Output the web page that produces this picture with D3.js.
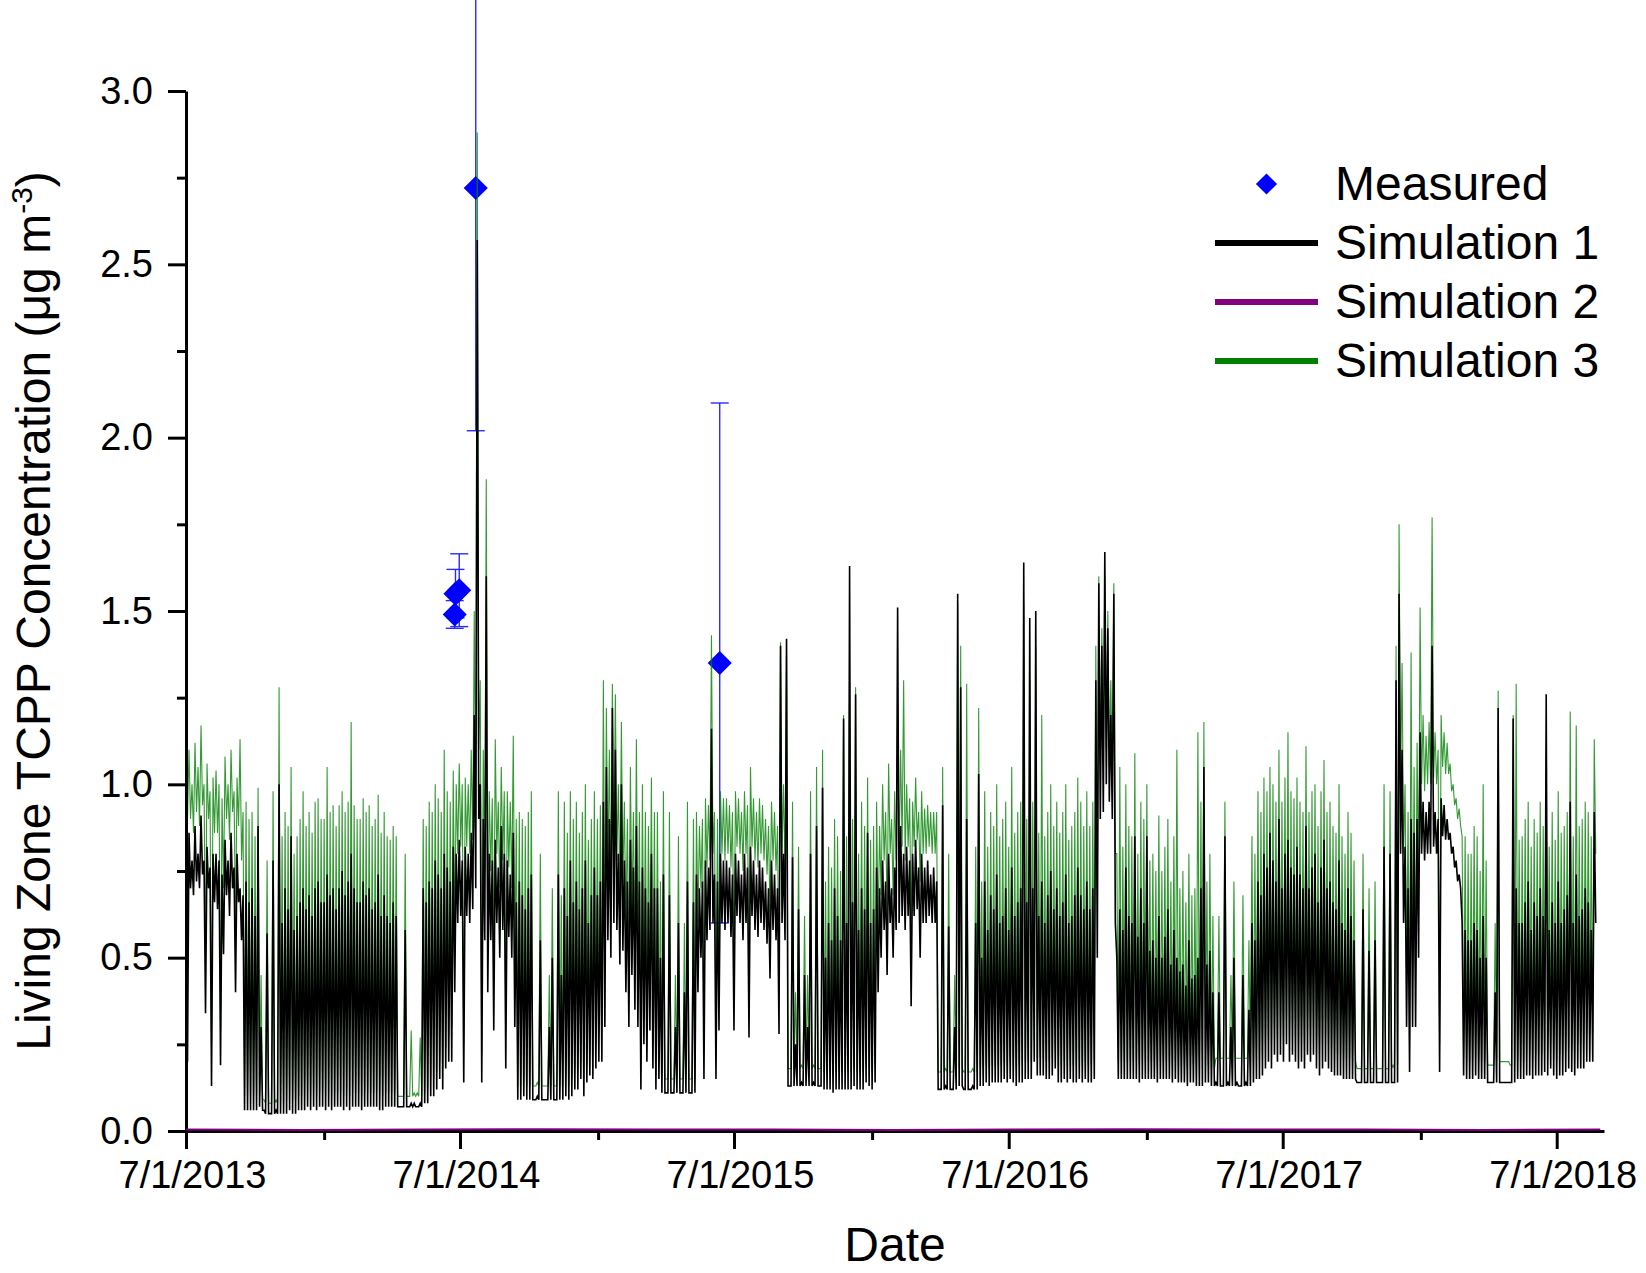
<!DOCTYPE html>
<html><head><meta charset="utf-8">
<script src="https://cdn.jsdelivr.net/npm/d3@7"></script>
<style>
body{margin:0;background:#fff}
svg{display:block}
text{font-family:"Liberation Sans",Arial,Helvetica,sans-serif;fill:#000}
</style>
</head><body>
<svg id="chart" width="1646" height="1273"></svg>
<script>
// ---------------- data ----------------
// Dense simulated series, read as the highest and lowest value inside each 4-day bin
const seriesStart = "2013-07-01";
const binDays = 4;
const sim1Max = [
0.82,0.86,0.78,0.88,0.80,0.91,0.78,0.82,0.76,0.80,
0.80,0.78,0.74,0.84,0.78,0.86,0.76,0.80,0.70,0.68,
0.72,0.66,0.70,0.62,0.88,0.30,0.06,0.57,0.05,0.78,
0.06,1.00,0.60,0.70,0.64,0.85,0.58,0.62,0.66,0.70,
0.64,0.68,0.62,0.70,0.72,0.66,0.66,0.74,0.68,0.70,
0.64,0.70,0.75,0.68,0.72,0.80,0.70,0.66,0.66,0.72,
0.68,0.70,0.64,0.66,0.74,0.62,0.68,0.62,0.60,0.66,
0.62,0.07,0.07,0.58,0.07,0.08,0.08,0.07,0.08,0.70,
0.66,0.72,0.70,0.78,0.74,0.70,0.80,0.76,0.72,0.82,
0.80,0.84,0.78,0.82,0.80,0.86,1.20,2.57,1.00,0.90,
1.60,0.80,0.78,0.84,0.76,0.88,0.80,0.78,0.74,0.86,
0.66,0.72,0.68,0.64,0.70,0.74,0.09,0.10,0.55,0.09,
0.09,0.30,0.50,0.09,0.74,0.45,0.70,0.62,0.78,0.66,
0.72,0.64,0.70,0.78,0.60,0.68,0.76,0.68,0.72,0.95,
1.05,0.90,1.22,1.10,0.80,1.00,0.78,0.72,0.84,0.76,
0.88,0.72,0.76,0.70,0.66,0.80,0.70,0.70,0.50,0.74,
0.11,0.68,0.11,0.30,0.60,0.11,0.40,0.72,0.11,0.66,
0.74,0.70,0.72,0.78,0.76,1.16,0.74,0.72,0.80,0.78,
0.78,0.76,0.74,0.80,0.78,0.74,0.80,0.76,0.82,0.78,
0.74,0.78,0.76,0.72,0.70,0.78,0.74,0.70,1.40,0.80,
1.42,0.13,0.79,0.25,0.64,0.14,0.45,0.30,0.80,0.14,
0.88,0.13,0.99,0.50,0.60,0.55,0.70,0.62,0.55,1.19,
0.60,1.63,0.66,1.26,0.58,0.70,0.64,0.86,0.60,0.64,
0.76,0.70,0.78,0.72,0.80,0.70,0.76,1.51,0.88,0.80,
0.82,0.78,0.80,0.84,0.76,0.80,0.76,0.78,0.74,0.76,
0.72,0.12,0.94,0.13,0.59,0.12,0.30,1.55,1.28,0.12,
0.90,0.12,0.13,0.60,1.03,0.50,0.72,0.58,0.68,0.64,
0.74,0.60,0.62,0.70,0.58,0.76,0.62,0.66,0.70,1.64,
0.66,1.48,0.70,1.50,0.62,0.72,0.60,0.68,0.75,0.64,
0.70,0.62,0.66,0.74,0.60,0.62,0.68,0.76,0.68,0.64,
0.72,0.64,0.70,1.30,1.58,1.40,1.67,1.45,1.20,1.55,
0.50,0.64,0.58,0.76,0.62,0.60,0.85,0.56,0.70,0.60,
0.85,0.52,0.55,0.50,0.62,0.50,0.56,0.64,0.48,0.58,
0.50,0.46,0.48,0.42,0.55,0.44,0.45,0.50,0.70,1.05,
0.48,0.52,0.40,0.14,0.40,0.13,0.85,0.14,0.30,0.50,
0.14,0.13,0.45,0.14,0.35,0.60,0.55,0.72,0.68,0.80,
0.76,0.86,0.78,0.72,0.90,0.70,0.80,0.84,0.76,0.74,
0.82,0.74,0.70,0.88,0.70,0.76,0.80,0.66,0.76,0.84,
0.70,0.72,0.66,0.64,0.78,0.60,0.58,0.70,0.62,0.55,
0.14,0.14,0.64,0.14,0.52,0.14,0.55,0.14,0.14,0.82,
0.14,0.80,0.14,1.30,1.55,1.10,0.82,0.70,0.90,0.86,
0.90,1.15,0.95,0.92,0.95,1.40,0.92,0.90,0.96,0.94,
0.90,0.86,0.82,0.78,0.74,0.60,0.58,0.55,0.55,0.60,
0.58,0.50,0.62,0.50,0.14,0.14,0.40,1.22,0.14,0.14,
0.14,0.14,1.19,0.70,0.60,0.60,0.66,0.72,0.58,0.66,
0.62,0.70,0.62,1.26,0.58,0.66,0.60,0.72,0.60,0.64,
0.68,0.95,0.60,0.74,0.62,0.64,0.70,0.66,0.58,0.92
];
const sim1Min = [
0.20,0.70,0.68,0.72,0.70,0.74,0.34,0.70,0.13,0.66,
0.64,0.19,0.51,0.68,0.62,0.70,0.40,0.66,0.55,0.06,
0.06,0.06,0.06,0.06,0.07,0.06,0.05,0.05,0.05,0.05,
0.05,0.05,0.05,0.05,0.06,0.05,0.05,0.06,0.06,0.06,
0.07,0.06,0.07,0.06,0.07,0.07,0.06,0.07,0.06,0.07,
0.07,0.07,0.06,0.07,0.06,0.07,0.07,0.07,0.06,0.07,
0.07,0.07,0.07,0.07,0.06,0.06,0.07,0.07,0.07,0.07,
0.07,0.07,0.07,0.07,0.07,0.07,0.07,0.07,0.07,0.08,
0.08,0.10,0.10,0.12,0.15,0.12,0.18,0.20,0.20,0.40,
0.60,0.62,0.14,0.62,0.60,0.64,0.70,0.90,0.14,0.55,
0.40,0.55,0.29,0.60,0.50,0.58,0.18,0.56,0.50,0.30,
0.09,0.09,0.10,0.09,0.09,0.09,0.09,0.09,0.09,0.09,
0.09,0.09,0.09,0.09,0.09,0.09,0.10,0.09,0.10,0.12,
0.12,0.15,0.10,0.14,0.16,0.15,0.18,0.20,0.20,0.30,
0.55,0.50,0.60,0.58,0.48,0.52,0.40,0.30,0.45,0.35,
0.30,0.12,0.25,0.20,0.29,0.18,0.12,0.15,0.11,0.11,
0.11,0.11,0.11,0.11,0.11,0.11,0.11,0.11,0.11,0.11,
0.40,0.50,0.15,0.55,0.58,0.60,0.15,0.29,0.60,0.58,
0.60,0.56,0.29,0.62,0.60,0.55,0.60,0.27,0.62,0.58,
0.56,0.60,0.58,0.54,0.44,0.58,0.55,0.28,0.60,0.55,
0.13,0.13,0.13,0.13,0.13,0.13,0.13,0.13,0.13,0.13,
0.13,0.13,0.12,0.12,0.12,0.11,0.12,0.12,0.12,0.12,
0.12,0.12,0.13,0.12,0.12,0.12,0.14,0.13,0.12,0.14,
0.40,0.50,0.58,0.45,0.60,0.50,0.58,0.60,0.62,0.58,
0.62,0.36,0.62,0.64,0.50,0.60,0.60,0.62,0.60,0.60,
0.12,0.12,0.12,0.12,0.12,0.12,0.12,0.13,0.13,0.12,
0.12,0.12,0.12,0.12,0.13,0.13,0.14,0.13,0.14,0.14,
0.14,0.14,0.15,0.14,0.15,0.14,0.13,0.14,0.14,0.15,
0.15,0.15,0.20,0.16,0.16,0.16,0.15,0.15,0.16,0.18,
0.14,0.14,0.15,0.14,0.15,0.14,0.14,0.15,0.14,0.15,
0.14,0.14,0.15,0.50,0.90,0.92,1.00,0.95,0.90,0.60,
0.15,0.15,0.15,0.15,0.15,0.15,0.15,0.14,0.15,0.15,
0.15,0.15,0.15,0.14,0.15,0.15,0.15,0.15,0.14,0.15,
0.14,0.14,0.14,0.13,0.14,0.14,0.13,0.13,0.13,0.14,
0.14,0.13,0.13,0.13,0.13,0.13,0.13,0.13,0.13,0.13,
0.13,0.13,0.13,0.13,0.13,0.14,0.15,0.15,0.16,0.18,
0.20,0.18,0.22,0.20,0.22,0.20,0.25,0.20,0.22,0.20,
0.18,0.20,0.18,0.22,0.20,0.22,0.18,0.16,0.18,0.20,
0.18,0.17,0.16,0.16,0.16,0.15,0.15,0.15,0.15,0.15,
0.14,0.14,0.14,0.14,0.14,0.14,0.14,0.14,0.14,0.14,
0.14,0.14,0.14,0.14,0.80,0.60,0.30,0.17,0.30,0.30,
0.50,0.80,0.78,0.80,0.80,0.82,0.80,0.17,0.85,0.84,
0.84,0.80,0.76,0.72,0.70,0.16,0.15,0.15,0.15,0.16,
0.15,0.15,0.15,0.14,0.14,0.14,0.14,0.14,0.14,0.14,
0.14,0.14,0.14,0.15,0.15,0.15,0.16,0.16,0.15,0.16,
0.16,0.16,0.17,0.16,0.18,0.16,0.15,0.16,0.16,0.17,
0.18,0.17,0.16,0.18,0.18,0.18,0.20,0.20,0.20,0.60
];
const sim3Max = [
1.05,1.10,1.00,1.12,1.05,1.17,1.00,1.06,0.98,1.02,
1.04,1.00,0.96,1.08,1.00,1.10,0.98,1.02,1.13,0.92,
0.95,0.90,0.92,0.85,0.99,0.45,0.09,0.78,0.08,0.98,
0.09,1.28,0.85,0.92,0.88,1.05,0.80,0.85,0.90,0.98,
0.88,0.92,0.86,0.95,0.96,0.90,0.90,1.05,0.92,0.94,
0.88,0.94,0.98,0.92,0.95,1.18,0.94,0.90,0.90,0.96,
0.92,0.94,0.88,0.90,0.97,0.86,0.92,0.85,0.84,0.88,
0.85,0.10,0.10,0.80,0.10,0.29,0.11,0.11,0.27,0.90,
0.88,0.95,0.92,1.00,0.96,0.92,1.10,0.98,0.95,1.04,
1.00,1.06,1.00,1.02,1.00,1.10,1.50,2.88,1.30,1.10,
1.88,0.98,0.96,1.13,0.95,1.05,0.98,0.98,0.95,1.14,
0.90,0.92,0.90,0.88,0.92,0.98,0.13,0.14,0.80,0.13,
0.13,0.45,0.70,0.13,0.98,0.68,0.95,0.86,0.98,0.90,
0.95,0.86,0.92,1.00,0.84,0.90,0.98,0.90,0.94,1.30,
1.22,1.10,1.29,1.26,1.00,1.18,0.95,0.90,1.05,0.92,
1.13,0.92,1.00,0.92,0.88,1.02,0.92,0.92,0.72,0.98,
0.15,0.92,0.15,0.45,0.85,0.15,0.60,0.95,0.15,0.90,
0.92,0.88,0.90,0.96,0.94,1.43,0.92,0.90,0.98,0.96,
0.96,0.94,0.92,0.98,0.96,0.92,0.98,0.94,1.05,0.96,
0.92,0.96,0.94,0.90,0.88,0.95,0.92,0.88,1.41,1.00,
1.38,0.18,0.95,0.40,0.82,0.19,0.62,0.45,0.98,0.19,
1.05,0.18,1.10,0.72,0.82,0.76,0.90,0.85,0.75,1.20,
0.85,1.30,0.90,1.28,0.80,0.95,0.88,1.02,0.84,0.88,
0.95,0.88,1.00,0.92,1.06,0.90,0.98,1.20,1.10,1.30,
1.00,0.96,0.95,1.02,0.92,0.98,0.93,0.94,0.92,0.92,
0.92,0.17,1.05,0.18,0.80,0.17,0.45,1.52,1.40,0.17,
1.29,0.17,0.18,0.82,1.22,0.72,0.98,0.82,0.92,0.88,
1.00,0.85,0.90,0.95,0.82,1.05,0.86,0.92,0.95,1.53,
0.90,1.30,0.95,1.40,0.86,1.20,0.85,0.92,1.00,0.88,
0.95,0.86,0.92,1.00,0.84,0.88,0.92,1.02,0.95,0.88,
0.98,0.88,0.95,1.40,1.60,1.45,1.60,1.50,1.30,1.58,
0.80,1.05,0.82,1.00,0.88,0.85,1.09,0.80,0.95,0.90,
1.00,0.78,0.80,0.75,0.91,0.75,0.82,0.90,0.72,0.85,
1.10,0.70,0.75,0.66,0.80,0.68,0.70,1.15,0.95,1.18,
0.72,0.80,0.62,0.21,0.62,0.21,0.95,0.21,0.45,0.72,
0.21,0.21,0.68,0.21,0.55,0.85,0.80,0.98,0.92,1.02,
0.98,1.05,1.00,0.95,1.10,0.95,1.02,1.15,0.98,0.96,
1.02,0.95,0.92,1.11,0.92,0.98,1.00,0.88,0.98,1.07,
0.92,0.95,0.88,0.86,1.00,0.85,0.80,0.92,0.86,0.78,
0.18,0.18,0.80,0.18,0.70,0.18,0.72,0.18,0.18,1.00,
0.18,0.98,0.19,1.40,1.75,1.35,1.00,0.92,1.38,1.05,
1.12,1.51,1.20,1.14,1.18,1.77,1.15,1.10,1.20,1.15,
1.12,1.06,1.00,0.96,0.93,0.85,0.85,0.80,0.80,0.88,
0.85,0.75,1.00,0.78,0.19,0.19,0.60,1.27,0.20,0.20,
0.20,0.19,1.20,1.29,0.84,0.85,0.90,0.95,0.82,0.90,
0.86,0.95,0.88,1.10,0.82,0.92,0.84,0.98,0.86,0.88,
0.92,1.21,0.85,1.17,0.88,0.90,0.95,0.92,0.85,1.13
];
const sim3Min = [
0.90,0.90,0.86,0.92,0.88,0.94,0.50,0.90,0.24,0.86,
0.86,0.30,0.70,0.90,0.84,0.92,0.58,0.88,0.78,0.10,
0.10,0.10,0.10,0.10,0.10,0.09,0.08,0.08,0.08,0.08,
0.08,0.08,0.08,0.09,0.10,0.09,0.09,0.10,0.10,0.10,
0.11,0.10,0.11,0.10,0.11,0.11,0.10,0.11,0.10,0.11,
0.11,0.11,0.10,0.11,0.10,0.11,0.11,0.11,0.10,0.11,
0.11,0.11,0.11,0.11,0.10,0.10,0.11,0.11,0.11,0.11,
0.10,0.10,0.10,0.10,0.10,0.10,0.10,0.10,0.10,0.11,
0.12,0.15,0.15,0.17,0.20,0.18,0.24,0.28,0.30,0.55,
0.80,0.82,0.25,0.82,0.80,0.84,0.90,1.10,0.22,0.75,
0.60,0.75,0.45,0.80,0.70,0.78,0.30,0.76,0.70,0.45,
0.13,0.13,0.14,0.13,0.13,0.13,0.13,0.13,0.13,0.13,
0.13,0.13,0.13,0.13,0.13,0.13,0.15,0.13,0.15,0.18,
0.17,0.20,0.15,0.19,0.22,0.22,0.25,0.28,0.30,0.45,
0.75,0.70,0.80,0.78,0.68,0.72,0.58,0.45,0.62,0.50,
0.45,0.17,0.38,0.28,0.42,0.25,0.16,0.20,0.15,0.15,
0.15,0.15,0.15,0.15,0.15,0.15,0.15,0.15,0.15,0.15,
0.60,0.70,0.22,0.76,0.78,0.80,0.24,0.45,0.80,0.78,
0.80,0.76,0.45,0.82,0.80,0.75,0.80,0.42,0.82,0.78,
0.76,0.80,0.78,0.74,0.62,0.78,0.75,0.40,0.80,0.75,
0.18,0.18,0.18,0.18,0.18,0.18,0.18,0.18,0.18,0.18,
0.18,0.18,0.17,0.17,0.17,0.16,0.17,0.17,0.17,0.17,
0.17,0.17,0.18,0.17,0.17,0.17,0.19,0.18,0.17,0.19,
0.58,0.68,0.78,0.62,0.80,0.68,0.78,0.80,0.82,0.78,
0.82,0.55,0.82,0.84,0.72,0.80,0.80,0.82,0.80,0.80,
0.17,0.17,0.17,0.17,0.17,0.17,0.17,0.18,0.18,0.17,
0.17,0.17,0.17,0.17,0.18,0.18,0.19,0.18,0.19,0.19,
0.19,0.19,0.20,0.19,0.20,0.19,0.18,0.19,0.19,0.20,
0.20,0.20,0.26,0.21,0.21,0.21,0.20,0.20,0.21,0.24,
0.19,0.19,0.20,0.19,0.20,0.19,0.19,0.20,0.19,0.20,
0.19,0.19,0.20,0.70,1.05,1.05,1.10,1.05,1.00,0.80,
0.20,0.20,0.20,0.20,0.20,0.20,0.20,0.19,0.20,0.20,
0.20,0.20,0.20,0.19,0.20,0.20,0.20,0.20,0.19,0.20,
0.19,0.19,0.19,0.18,0.19,0.19,0.18,0.18,0.18,0.19,
0.19,0.18,0.18,0.21,0.21,0.21,0.21,0.21,0.21,0.21,
0.21,0.21,0.21,0.21,0.20,0.20,0.21,0.21,0.22,0.25,
0.27,0.25,0.30,0.27,0.30,0.27,0.32,0.27,0.30,0.27,
0.25,0.27,0.25,0.30,0.27,0.30,0.25,0.22,0.25,0.27,
0.25,0.23,0.22,0.22,0.22,0.21,0.21,0.21,0.20,0.20,
0.18,0.18,0.18,0.18,0.18,0.18,0.18,0.18,0.18,0.18,
0.18,0.18,0.18,0.19,1.00,0.80,0.45,0.25,0.45,0.45,
0.70,1.00,0.98,1.00,1.00,1.02,1.00,0.25,1.05,1.03,
1.03,0.98,0.94,0.90,0.88,0.21,0.20,0.20,0.20,0.21,
0.20,0.20,0.20,0.19,0.19,0.19,0.20,0.20,0.20,0.20,
0.20,0.19,0.19,0.20,0.20,0.20,0.22,0.22,0.20,0.22,
0.22,0.22,0.23,0.22,0.25,0.22,0.20,0.22,0.22,0.23,
0.24,0.23,0.22,0.25,0.25,0.25,0.28,0.28,0.28,0.80
];
// Simulation 2 (purple), one value every 157 days
const sim2StepDays = 157;
const sim2 = [0.004,0.003,0.004,0.005,0.004,0.004,0.003,0.004,0.005,0.004,0.004,0.003,0.004];

// Measured points
const measDates  = ["2014-06-24","2014-06-25","2014-06-30","2014-07-22","2015-06-12"];
const measValues = [1.49, 1.55, 1.56, 2.72, 1.35];
const measErrors = [0.04, 0.07, 0.105, 0.70, 0.75];

// Axes
const xDomain = ["2013-07-01","2018-09-02"];
const xMajorTicks = ["2013-07-01","2014-07-01","2015-07-01","2016-07-01","2017-07-01","2018-07-01"];
const xMajorLabels = ["7/1/2013","7/1/2014","7/1/2015","7/1/2016","7/1/2017","7/1/2018"];
const xMinorTicks = ["2014-01-01","2015-01-01","2016-01-01","2017-01-01","2018-01-01"];
const yMajorTicks = [0,0.5,1.0,1.5,2.0,2.5,3.0];
const yMajorLabels = ["0.0","0.5","1.0","1.5","2.0","2.5","3.0"];
const yMinorTicks = [0.25,0.75,1.25,1.75,2.25,2.75];
const yDomain = [0,3];

const legendLabels = ["Measured","Simulation 1","Simulation 2","Simulation 3"];
const colors = {meas:"#0000ff", err:"#2a2aff", sim1:"#000000", sim2:"#800080", sim3:"#008000"};

// ---------------- drawing ----------------
const parse = d3.utcParse("%Y-%m-%d");
const DAY = 864e5;
const svg = d3.select("#chart");
const F = '"Liberation Sans",Arial,Helvetica,sans-serif';

const x = d3.scaleUtc().domain(xDomain.map(parse)).range([186,1604]);
const y = d3.scaleLinear().domain(yDomain).range([1131,91]);
const t0 = parse(seriesStart).getTime();

// build (date,value) sequence: in each bin the line visits the bin maximum, then the bin minimum
function binSeries(maxArr, minArr){
  const n = Math.min(maxArr.length, minArr.length);
  const pts = [];
  for (let i=0;i<n;i++){
    pts.push([new Date(t0 + i*binDays*DAY), maxArr[i]]);
    pts.push([new Date(t0 + (i*binDays + binDays/2)*DAY), minArr[i]]);
  }
  return pts;
}
const line = d3.line().x(d=>x(d[0])).y(d=>y(d[1]));

// measured (drawn first; lines pass over them)
const gM = svg.append("g");
measValues.forEach((v,k)=>{
  const cx = x(parse(measDates[k]));
  const e = measErrors[k];
  gM.append("line").attr("x1",cx).attr("x2",cx).attr("y1",y(v-e)).attr("y2",y(v+e))
    .attr("stroke",colors.err).attr("stroke-width",1.4);
  [v-e, v+e].forEach(b=>{
    gM.append("line").attr("x1",cx-9).attr("x2",cx+9).attr("y1",y(b)).attr("y2",y(b))
      .attr("stroke",colors.err).attr("stroke-width",1.4);
  });
});
const diamond = d3.symbol().type(d3.symbolSquare).size(290);
measValues.forEach((v,k)=>{
  gM.append("path").attr("d",diamond())
    .attr("transform",`translate(${x(parse(measDates[k]))},${y(v)}) rotate(45)`)
    .attr("fill",colors.meas);
});

svg.append("path").attr("d",line(binSeries(sim3Max,sim3Min)))
  .attr("fill","none").attr("stroke",colors.sim3).attr("stroke-width",1.1)
  .attr("stroke-opacity",0.8);
svg.append("path").attr("d",line(binSeries(sim1Max,sim1Min)))
  .attr("fill","none").attr("stroke",colors.sim1).attr("stroke-width",1.6);

// axes
function styleAxis(g){
  g.selectAll("path.domain").attr("stroke","#000").attr("stroke-width",3);
  g.selectAll(".tick line").attr("stroke","#000").attr("stroke-width",3);
  g.selectAll("text").attr("font-family",F).attr("font-size",38).attr("fill","#000");
}
const xAxis = d3.axisBottom(x).tickValues(xMajorTicks.map(parse)).tickSize(18).tickSizeOuter(0).tickPadding(12)
  .tickFormat((d,i)=>xMajorLabels[i]);
const gx = svg.append("g").attr("transform","translate(0,1131)").call(xAxis);
styleAxis(gx);
gx.selectAll("text").attr("dx",6);
const gx2 = svg.append("g").attr("transform","translate(0,1131)")
  .call(d3.axisBottom(x).tickValues(xMinorTicks.map(parse)).tickSize(9).tickSizeOuter(0).tickFormat(""));
styleAxis(gx2); gx2.select("path.domain").remove();

const yAxis = d3.axisLeft(y).tickValues(yMajorTicks).tickSize(18).tickSizeOuter(0).tickPadding(15)
  .tickFormat((d,i)=>yMajorLabels[i]);
const gy = svg.append("g").attr("transform","translate(186,0)").call(yAxis);
styleAxis(gy);
const gy2 = svg.append("g").attr("transform","translate(186,0)")
  .call(d3.axisLeft(y).tickValues(yMinorTicks).tickSize(9).tickSizeOuter(0).tickFormat(""));
styleAxis(gy2); gy2.select("path.domain").remove();

// sim2 near zero
svg.append("path").attr("d",d3.line().x((d,i)=>x(new Date(t0 + i*sim2StepDays*DAY))).y(d=>y(d))(sim2))
  .attr("fill","none").attr("stroke",colors.sim2).attr("stroke-width",2);

// titles
svg.append("text").attr("x",895).attr("y",1261).attr("text-anchor","middle")
  .attr("font-size",48).attr("font-family",F).text("Date");
const yt = svg.append("text").attr("transform","translate(50,611) rotate(-90)")
  .attr("text-anchor","middle").attr("font-size",48).attr("font-family",F);
yt.append("tspan").text("Living Zone TCPP Concentration (\u03bcg m");
yt.append("tspan").attr("font-size",30).attr("dy",-18).text("-3");
yt.append("tspan").attr("dy",18).text(")");

// legend
const lg = svg.append("g");
const lx0 = 1215, lx1 = 1318, tx = 1335;
const rows = [200,259,318,377];
lg.append("path").attr("d",d3.symbol().type(d3.symbolSquare).size(225)())
  .attr("transform",`translate(${(lx0+lx1)/2},${rows[0]-16}) rotate(45)`).attr("fill",colors.meas);
[colors.sim1,colors.sim2,colors.sim3].forEach((c,k)=>{
  lg.append("line").attr("x1",lx0).attr("x2",lx1).attr("y1",rows[k+1]-16).attr("y2",rows[k+1]-16)
    .attr("stroke",c).attr("stroke-width",6);
});
legendLabels.forEach((t,k)=>{
  lg.append("text").attr("x",tx).attr("y",rows[k]).attr("font-size",48).attr("font-family",F).text(t);
});
</script>
</body></html>
